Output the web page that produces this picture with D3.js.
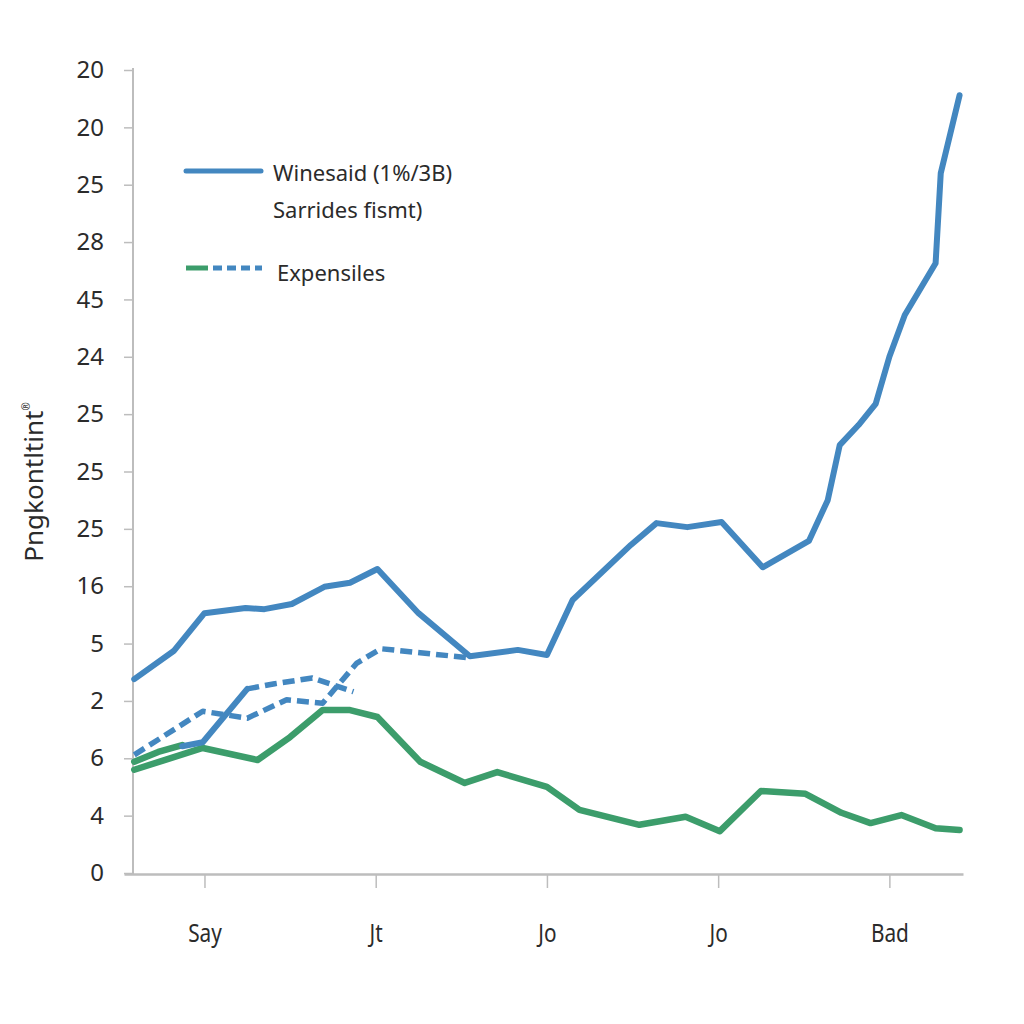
<!DOCTYPE html>
<html>
<head>
<meta charset="utf-8">
<script src="https://cdn.jsdelivr.net/npm/d3@7"></script>
<style>
  html, body { margin: 0; padding: 0; background: #ffffff; }
  svg { display: block; }
</style>
</head>
<body>
<svg id="chart" width="1024" height="1024"></svg>
<script>
// ---- data ----
const yTickLabels = ["0","4","6","2","5","16","25","25","25","24","45","28","25","20","20"]; // bottom to top
const xTickPositions = [1, 2, 3, 4, 5];
const xTickLabels = ["Say", "Jt", "Jo", "Jo", "Bad"];

const mainX = [0.59,0.82,1.00,1.24,1.35,1.51,1.70,1.85,2.01,2.25,2.55,2.83,3.00,3.15,3.49,3.64,3.82,4.02,4.26,4.53,4.64,4.71,4.82,4.92,5.00,5.09,5.27,5.30,5.41];
const mainY = [3.38,3.87,4.53,4.62,4.60,4.69,4.99,5.06,5.30,4.53,3.78,3.89,3.80,4.76,5.72,6.10,6.03,6.12,5.33,5.79,6.50,7.46,7.81,8.18,9.00,9.73,10.63,12.20,13.56];

const secondSolidX = [0.87,0.99,1.25];
const secondSolidY = [2.21,2.28,3.21];
const secondDashX = [1.25,1.41,1.63,1.87];
const secondDashY = [3.21,3.30,3.40,3.16];

const dashX = [0.59,0.99,1.25,1.48,1.69,1.89,2.03,2.26,2.55];
const dashY = [2.06,2.82,2.70,3.02,2.96,3.66,3.91,3.84,3.75];

const greenX = [0.59,0.99,1.31,1.50,1.69,1.85,2.01,2.26,2.52,2.71,3.00,3.19,3.54,3.81,4.01,4.25,4.51,4.72,4.89,5.07,5.27,5.41];
const greenY = [1.80,2.18,1.97,2.37,2.84,2.84,2.72,1.94,1.57,1.76,1.50,1.10,0.84,0.98,0.73,1.43,1.38,1.05,0.87,1.01,0.78,0.75];

const greenShortX = [0.59,0.73,0.87];
const greenShortY = [1.94,2.11,2.23];

const legendLines = ["Winesaid (1%/3B)", "Sarrides fismt)"];
const legendSecond = "Expensiles";
const yTitle = "Pngkontltint";

// ---- drawing ----
const BLUE = "#4387c0";
const GREEN = "#3c9d6b";
const AXIS = "#bdbdbd";
const TEXT = "#2b2b2b";

const svg = d3.select("#chart");
const x = d3.scaleLinear().domain([0.53, 5.43]).range([124, 963]);
const y = d3.scaleLinear().domain([0, 14]).range([873, 70]);

const zip = (xs, ys) => xs.map((v, i) => [v, ys[i]]);
const line = d3.line().x(d => x(d[0])).y(d => y(d[1]));

// Y axis
const yAxis = d3.axisLeft(y)
  .tickValues(d3.range(yTickLabels.length))
  .tickFormat(i => yTickLabels[i])
  .tickSize(9)
  .tickSizeOuter(0)
  .tickPadding(20);
const gy = svg.append("g").attr("transform", "translate(133,0)").call(yAxis);
gy.select(".domain").attr("stroke", AXIS).attr("stroke-width", 2).attr("d", `M0,${y(14)-2}V${y(0)+1}`);
gy.selectAll(".tick line").attr("stroke", AXIS).attr("stroke-width", 1.5);
gy.selectAll(".tick text").attr("fill", TEXT).style("font-family", "'Noto Sans', 'Open Sans', sans-serif").style("font-size", "24px");

// X axis
const xAxis = d3.axisBottom(x)
  .tickValues(xTickPositions)
  .tickFormat((d, i) => xTickLabels[i])
  .tickSize(14)
  .tickSizeOuter(0)
  .tickPadding(36);
const gx = svg.append("g").attr("transform", "translate(0,874)").call(xAxis);
gx.select(".domain").attr("stroke", AXIS).attr("stroke-width", 2.5);
gx.selectAll(".tick line").attr("stroke", AXIS).attr("stroke-width", 1.5);
gx.selectAll(".tick text").attr("fill", TEXT)
  .style("font-family", "'Noto Sans', 'Open Sans', sans-serif")
  .style("font-size", "26px")
  .attr("transform", "scale(0.8,1)");

// Y title
const yt = svg.append("text")
  .attr("transform", "translate(43,482) rotate(-90)")
  .attr("text-anchor", "middle")
  .attr("fill", TEXT)
  .style("font-family", "'Noto Sans', 'Open Sans', sans-serif")
  .style("font-size", "26px");
yt.append("tspan").text(yTitle);
yt.append("tspan").attr("dy", -13).style("font-size", "10px").text("®");

// Series
svg.append("path").datum(zip(greenX, greenY)).attr("d", line)
  .attr("fill", "none").attr("stroke", GREEN).attr("stroke-width", 6.5).attr("stroke-linejoin", "round").attr("stroke-linecap", "round");
svg.append("path").datum(zip(greenShortX, greenShortY)).attr("d", line)
  .attr("fill", "none").attr("stroke", GREEN).attr("stroke-width", 6.5).attr("stroke-linejoin", "round").attr("stroke-linecap", "round");

svg.append("path").datum(zip(dashX, dashY)).attr("d", line)
  .attr("fill", "none").attr("stroke", BLUE).attr("stroke-width", 5.5).attr("stroke-dasharray", "12,6").attr("stroke-linejoin", "round");
svg.append("path").datum(zip(secondDashX, secondDashY)).attr("d", line)
  .attr("fill", "none").attr("stroke", BLUE).attr("stroke-width", 5.5).attr("stroke-dasharray", "12,6").attr("stroke-linejoin", "round");
svg.append("path").datum(zip(secondSolidX, secondSolidY)).attr("d", line)
  .attr("fill", "none").attr("stroke", BLUE).attr("stroke-width", 6).attr("stroke-linejoin", "round").attr("stroke-linecap", "round");

svg.append("path").datum(zip(mainX, mainY)).attr("d", line)
  .attr("fill", "none").attr("stroke", BLUE).attr("stroke-width", 6).attr("stroke-linejoin", "round").attr("stroke-linecap", "round");

// Legend
const legFont = "'Noto Sans', 'Open Sans', sans-serif";
svg.append("line").attr("x1", 186).attr("x2", 261).attr("y1", 171).attr("y2", 171)
  .attr("stroke", BLUE).attr("stroke-width", 5).attr("stroke-linecap", "round");
const lt = svg.append("text").attr("x", 273).attr("y", 181).attr("fill", TEXT)
  .style("font-family", legFont).style("font-size", "22px");
lt.append("tspan").attr("x", 273).text(legendLines[0]);
lt.append("tspan").attr("x", 273).attr("dy", 37).text(legendLines[1]);

svg.append("line").attr("x1", 186).attr("x2", 208).attr("y1", 268).attr("y2", 268)
  .attr("stroke", GREEN).attr("stroke-width", 5);
svg.append("line").attr("x1", 213).attr("x2", 262).attr("y1", 268).attr("y2", 268)
  .attr("stroke", BLUE).attr("stroke-width", 5).attr("stroke-dasharray", "9,5");
svg.append("text").attr("x", 277).attr("y", 281).attr("fill", TEXT)
  .style("font-family", legFont).style("font-size", "22px").text(legendSecond);
</script>
</body>
</html>
